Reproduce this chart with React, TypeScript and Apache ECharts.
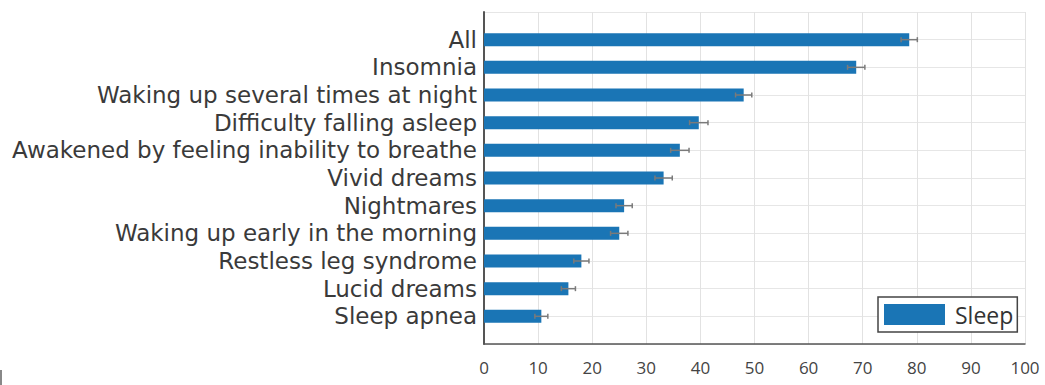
import React, { useEffect, useRef } from "react";
import * as echarts from "echarts";

// Symptom categories, listed from top to bottom
const categories = [
  "All",
  "Insomnia",
  "Waking up several times at night",
  "Difficulty falling asleep",
  "Awakened by feeling inability to breathe",
  "Vivid dreams",
  "Nightmares",
  "Waking up early in the morning",
  "Restless leg syndrome",
  "Lucid dreams",
  "Sleep apnea",
];

// Percentages and their error margins, same order as categories
const sleepValues = [78.6, 68.8, 48.0, 39.7, 36.2, 33.2, 25.9, 25.0, 18.0, 15.6, 10.6];
const sleepErrors = [1.5, 1.6, 1.5, 1.7, 1.7, 1.6, 1.5, 1.6, 1.4, 1.3, 1.2];

const seriesName = "Sleep";

const FONT = "'Open Sans', 'Noto Sans', sans-serif";
const LABEL_FONT = "'DejaVu Sans', 'Open Sans', sans-serif";
const BAR_COLOR = "#1a75b5";

export default function App() {
  const ref = useRef<HTMLDivElement>(null);

  useEffect(() => {
    if (!ref.current) return;
    const chart = echarts.init(ref.current, null, { renderer: "svg" });

    // Category axis runs bottom-up, padded with an empty slot at each end
    const axisCats = ["", ...categories.slice().reverse(), ""];
    const barData: (number | string)[] = ["-", ...sleepValues.slice().reverse(), "-"];
    const errVals = sleepValues.slice().reverse();
    const errErrs = sleepErrors.slice().reverse();
    const errData = errVals.map((v, i) => [v, i + 1, errErrs[i]]);

    chart.setOption({
      animation: false,
      textStyle: { fontFamily: FONT },
      grid: { left: 484, right: 20, top: 12, bottom: 41, containLabel: false },
      legend: {
        left: 878,
        top: 297,
        data: [{ name: seriesName, icon: "rect" }],
        itemWidth: 61,
        itemHeight: 21,
        padding: [6, 4, 6, 6],
        borderColor: "#444",
        borderWidth: 1.5,
        backgroundColor: "#fff",
        borderRadius: 0,
        textStyle: { fontSize: 23, color: "#333", fontFamily: FONT, padding: [0, 0, 0, 5] },
      },
      xAxis: {
        type: "value",
        min: 0,
        max: 100,
        interval: 10,
        axisLine: { show: true, lineStyle: { color: "#555", width: 1.5 } },
        axisTick: { show: false },
        axisLabel: { fontSize: 17, color: "#444", margin: 15, fontFamily: FONT },
        splitLine: { show: true, lineStyle: { color: "#e2e2e2", width: 1 } },
      },
      yAxis: {
        type: "category",
        data: axisCats,
        boundaryGap: false,
        axisLine: { show: true, lineStyle: { color: "#555", width: 2 } },
        axisTick: { show: false },
        axisLabel: {
          fontSize: 23,
          lineHeight: 25,
          color: "#3a3a3a",
          margin: 7,
          fontFamily: LABEL_FONT,
          interval: 0,
        },
        splitLine: { show: true, interval: 0, lineStyle: { color: "#e6e6e6", width: 1 } },
      },
      series: [
        {
          name: seriesName,
          type: "bar",
          data: barData,
          barWidth: 13,
          itemStyle: { color: BAR_COLOR },
          z: 2,
        },
        {
          name: "error",
          type: "custom",
          data: errData,
          encode: { x: 0, y: 1 },
          z: 3,
          renderItem: (_params: any, api: any) => {
            const v = api.value(0);
            const idx = api.value(1);
            const e = api.value(2);
            const lo = api.coord([v - e, idx]);
            const hi = api.coord([v + e, idx]);
            const cap = 2.5;
            const style = { stroke: "#7a7a7a", lineWidth: 1.5, fill: "none" };
            return {
              type: "group",
              children: [
                { type: "line", shape: { x1: lo[0], y1: lo[1], x2: hi[0], y2: hi[1] }, style },
                { type: "line", shape: { x1: lo[0], y1: lo[1] - cap, x2: lo[0], y2: lo[1] + cap }, style },
                { type: "line", shape: { x1: hi[0], y1: hi[1] - cap, x2: hi[0], y2: hi[1] + cap }, style },
              ],
            };
          },
        },
      ],
      graphic: [
        { type: "rect", left: 0, top: 370, shape: { width: 2, height: 15 }, style: { fill: "#888" } },
      ],
    });

    return () => chart.dispose();
  }, []);

  return (
    <div
      ref={ref}
      style={{ position: "fixed", left: 0, top: 0, width: 1045, height: 385, background: "#fff" }}
    />
  );
}
